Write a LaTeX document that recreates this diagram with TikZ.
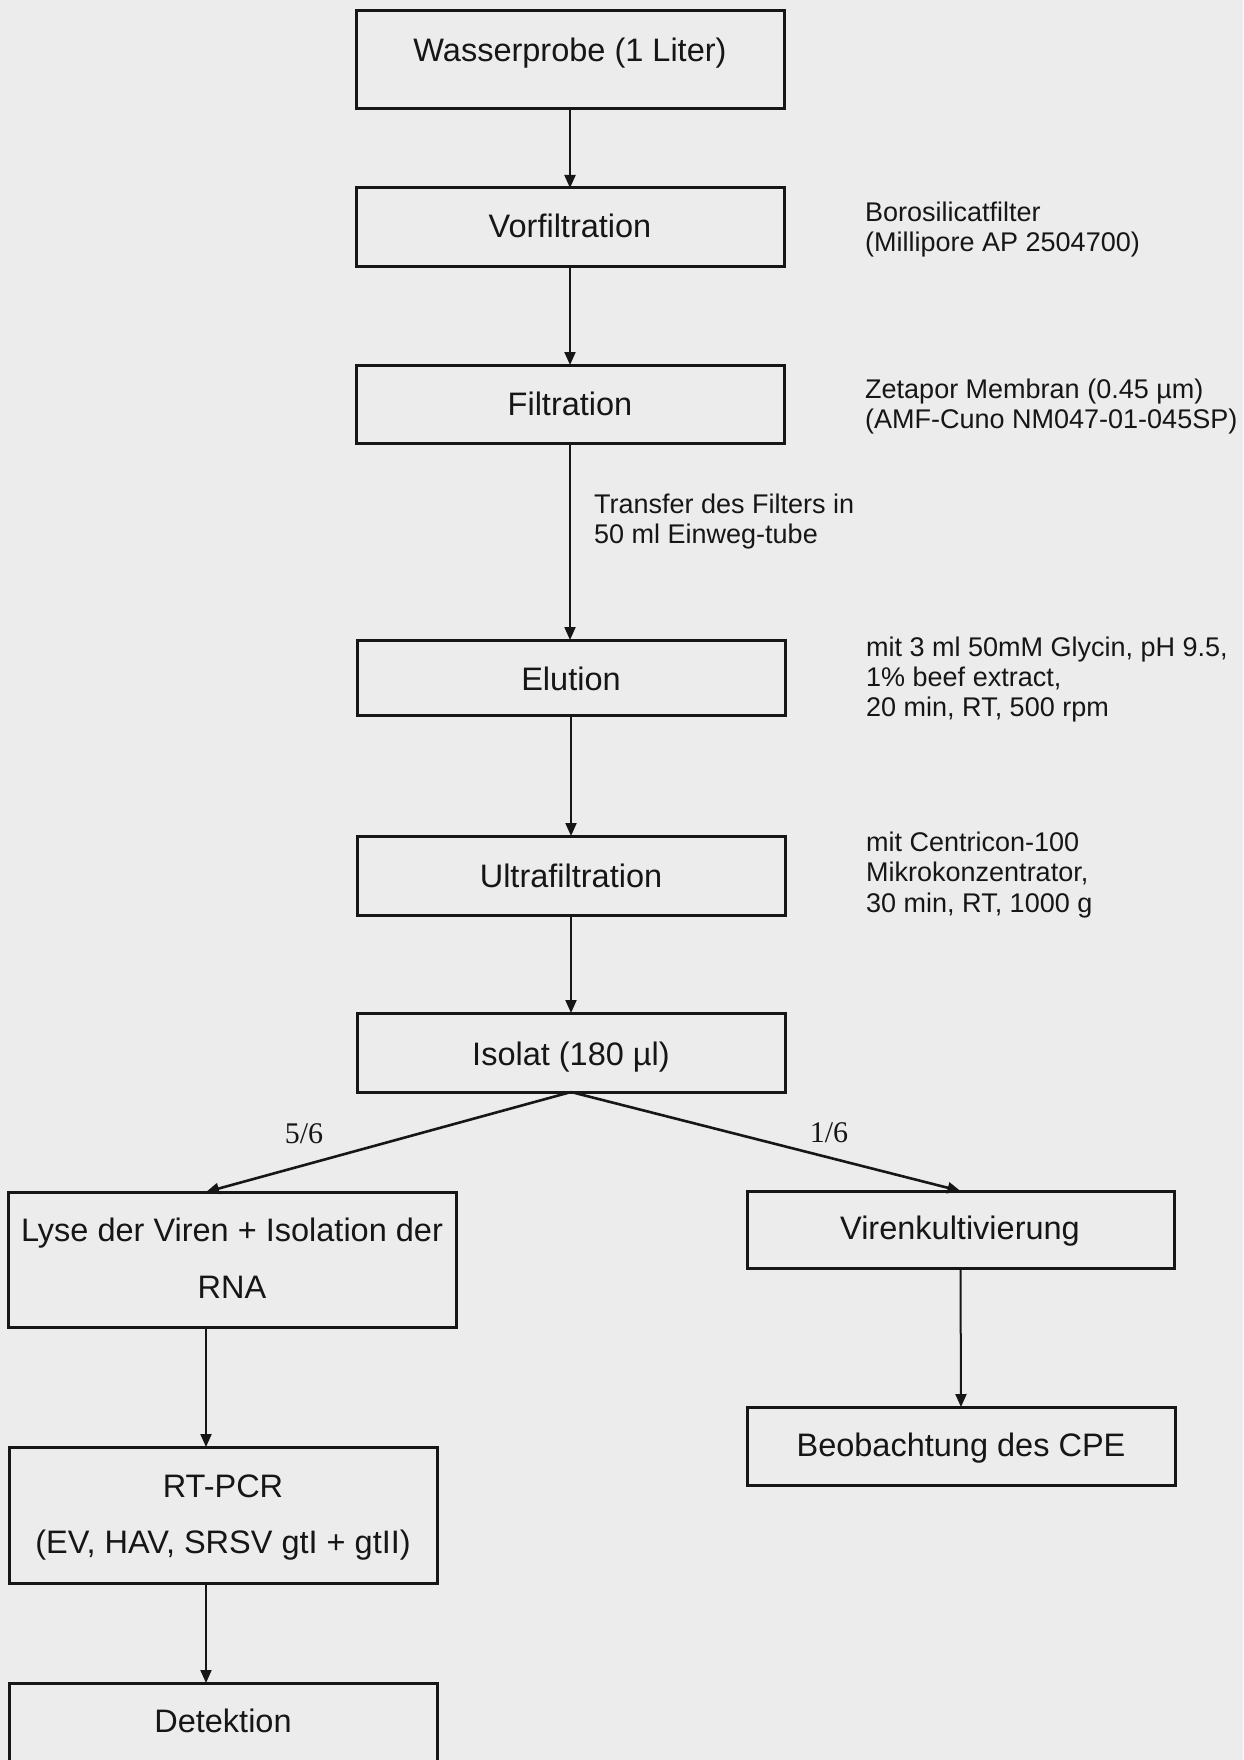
\documentclass[tikz,border=0pt]{standalone}
\usepackage{fontspec}
\setmainfont{Liberation Sans}
\newfontfamily\serifx{Liberation Serif}
\usetikzlibrary{arrows.meta}
\definecolor{paper}{RGB}{236,236,236}
\definecolor{ink}{RGB}{22,22,22}
\begin{document}
\begin{tikzpicture}[x=1pt,y=-1pt,
 box/.style={draw=ink, line width=3pt, rectangle, inner sep=0pt, outer sep=0pt},
 boxtext/.style={anchor=base, text=ink, font=\fontsize{32.5}{39}\selectfont, inner sep=0pt},
 note/.style={anchor=base west, text=ink, font=\fontsize{27}{32}\selectfont, inner sep=0pt},
 fraclabel/.style={anchor=base, text=ink, font=\serifx\fontsize{30}{35}\selectfont, inner sep=0pt},
 arr/.style={draw=ink, line width=2pt, -{Triangle[length=13pt,width=11pt]}},
 splitarr/.style={draw=ink, line width=2.6pt, -{Triangle[length=13pt,width=11pt]}}
]
\useasboundingbox (0,0) rectangle (1243,1760);
\fill[paper] (0,0) rectangle (1243,1760);
\clip (0,0) rectangle (1243,1760);

% boxes
\node[box, minimum width=428pt, minimum height=98pt] (W) at (570,60) {};
\node[box, minimum width=428pt, minimum height=79pt] (V) at (570,227.5) {};
\node[box, minimum width=428pt, minimum height=78pt] (F) at (570,404) {};
\node[box, minimum width=428pt, minimum height=75pt] (E) at (571,677.5) {};
\node[box, minimum width=428pt, minimum height=79pt] (U) at (571,875.5) {};
\node[box, minimum width=428pt, minimum height=79pt] (I) at (571,1052.5) {};
\node[box, minimum width=448pt, minimum height=135pt] (L) at (232,1259.5) {};
\node[box, minimum width=427pt, minimum height=77pt] (K) at (960.5,1229.5) {};
\node[box, minimum width=428pt, minimum height=136pt] (R) at (223,1515) {};
\node[box, minimum width=428pt, minimum height=78pt] (B) at (961,1446) {};
\node[box, minimum width=428pt, minimum height=87pt] (D) at (223,1726.5) {};

% box texts
\node[boxtext] (tW) at (570,62) {Wasserprobe (1 Liter)};
\node[boxtext] (tV) at (570,238) {Vorfiltration};
\node[boxtext] (tF) at (570,415) {Filtration};
\node[boxtext] (tE) at (571,690) {Elution};
\node[boxtext] (tU) at (571,887) {Ultrafiltration};
\node[boxtext] (tI) at (571,1065) {Isolat (180 µl)};
\node[boxtext] (tL1) at (232,1241) {Lyse der Viren + Isolation der};
\node[boxtext] (tL2) at (232,1298) {RNA};
\node[boxtext] (tK) at (960,1239) {Virenkultivierung};
\node[boxtext] (tR1) at (223,1497) {RT-PCR};
\node[boxtext] (tR2) at (223,1553) {(EV, HAV, SRSV gtI + gtII)};
\node[boxtext] (tB) at (961,1456) {Beobachtung des CPE};
\node[boxtext] (tD) at (223,1732) {Detektion};

% notes
\node[note] (n1a) at (865,222) {Borosilicatfilter};
\node[note] (n1b) at (865,252) {(Millipore AP 2504700)};
\node[note] (n2a) at (865,398) {Zetapor Membran (0.45 µm)};
\node[note] (n2b) at (865,428) {(AMF-Cuno NM047-01-045SP)};
\node[note] (n3a) at (594,513) {Transfer des Filters in};
\node[note] (n3b) at (594,543) {50 ml Einweg-tube};
\node[note] (n4a) at (866,656) {mit 3 ml 50mM Glycin, pH 9.5,};
\node[note] (n4b) at (866,686) {1\% beef extract,};
\node[note] (n4c) at (866,716) {20 min, RT, 500 rpm};
\node[note] (n5a) at (866,851) {mit Centricon-100};
\node[note] (n5b) at (866,881) {Mikrokonzentrator,};
\node[note] (n5c) at (866,912) {30 min, RT, 1000 g};

% fraction labels
\node[fraclabel] (f56) at (304,1143) {5/6};
\node[fraclabel] (f16) at (829,1142) {1/6};

% connectors
\coordinate (lx) at (206,0);
\draw[arr] (W.south) -- (V.north);
\draw[arr] (V.south) -- (F.north);
\draw[arr] (F.south) -- (F.south |- E.north);
\draw[arr] (E.south) -- (U.north);
\draw[arr] (U.south) -- (I.north);
\draw[splitarr] (I.south) -- (L.north -| lx);
\draw[splitarr] (I.south) -- (K.north);
\draw[arr] (L.south -| lx) -- (R.north -| lx);
\draw[arr] (R.south -| lx) -- (D.north -| lx);
\draw[arr] (K.south) -- (B.north);
\end{tikzpicture}
\end{document}
